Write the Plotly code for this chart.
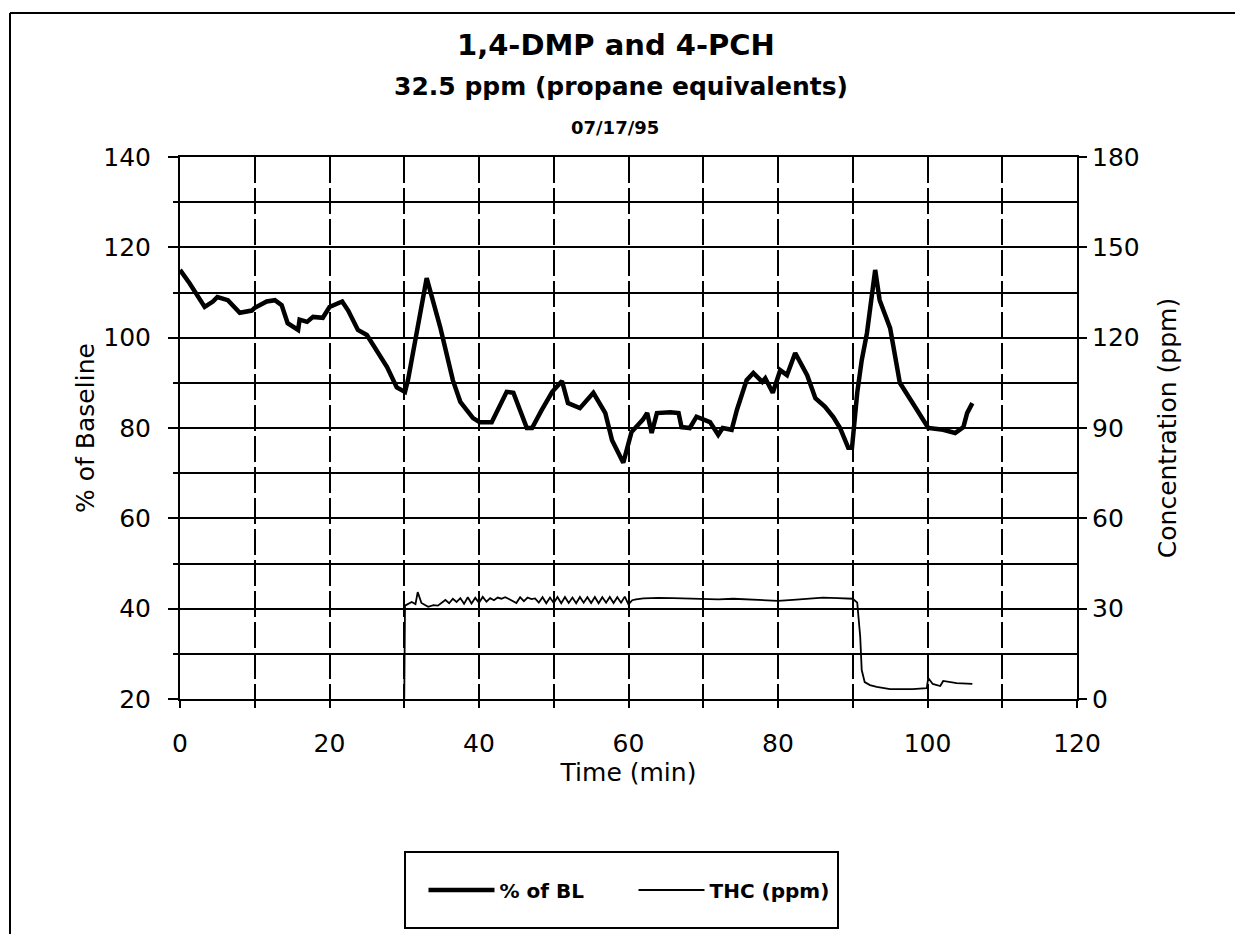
import plotly.graph_objects as go

# ---------------- data ----------------
time_bl = [0, 1.3, 3.3, 4.4, 5, 6.4, 8, 9.6, 10, 11.6, 12.7, 13.6, 14.4, 15.8, 16, 17,
           17.8, 19.1, 20, 21.7, 22.5, 23.8, 25, 26.3, 27.7, 29, 30.1, 30.5, 31.4, 33,
           34.8, 36.5, 37.5, 39.2, 40.1, 41.7, 43.7, 44.6, 46.4, 47.1, 48.4, 49.8, 51.1,
           51.9, 53.5, 55.3, 56.9, 57.8, 59.3, 60.4, 61.9, 62.5, 63.1, 63.8, 65.6, 66.7,
           67.1, 68.2, 69.1, 70.9, 72, 72.6, 73.8, 74.5, 75.8, 76.7, 77.9, 78.3, 79.3,
           80.3, 81.2, 82.3, 83.9, 85, 86.3, 87.4, 88.3, 89.4, 89.9, 90.6, 91.2, 91.9,
           93, 93.6, 95, 96.3, 98.6, 100.1, 102.1, 103.7, 104.8, 105.3, 106]
pct_bl = [115, 112, 106.8, 108, 109, 108.3, 105.5, 106, 106.6, 108, 108.3, 107.2, 103.2,
          101.7, 104, 103.5, 104.6, 104.4, 106.8, 108, 106, 101.7, 100.6, 97.3, 93.5, 89,
          88, 90.6, 98.8, 113.2, 102.4, 90.6, 85.8, 82.2, 81.3, 81.3, 88, 87.8, 80, 80,
          84, 88, 90.4, 85.5, 84.4, 87.8, 83.3, 77.3, 72.3, 79.1, 81.8, 83.3, 78.9, 83.3,
          83.5, 83.3, 80.2, 80, 82.5, 81.3, 78.5, 80, 79.6, 84, 90.6, 92.2, 90.2, 91,
          87.8, 92.8, 91.7, 96.6, 91.7, 86.6, 84.7, 82.4, 80, 75.6, 75.6, 87.8, 95, 101,
          115, 108.3, 102.1, 90, 84, 80, 79.6, 78.9, 80.2, 83.3, 85.5]

time_thc = [30.0, 30.1, 31, 31.5, 31.8, 32.3, 33.2, 33.9, 34.5, 35, 35.5, 36, 36.5, 37,
            37.5, 38, 38.5, 39, 39.5, 40, 40.5, 41, 41.5, 42, 42.5, 43, 43.5, 44, 44.5,
            45, 45.5, 46, 46.5, 47, 47.5, 48, 48.5, 49, 49.5, 50, 50.5, 51, 51.5, 52,
            52.5, 53, 53.5, 54, 54.5, 55, 55.5, 56, 56.5, 57, 57.5, 58, 58.5, 59, 59.5,
            60, 60.5, 61, 62, 64, 66, 68, 70, 72, 74, 76, 78, 80, 82, 84, 86, 88, 90,
            90.6, 91, 91.2, 91.6, 92.3, 93.2, 95, 98, 99.9, 100.1, 100.7, 101.7, 102.1,
            103.9, 106]
thc_ppm = [0, 31, 32.2, 31.5, 35.5, 31.9, 30.6, 31.2, 31.0, 32.0, 32.9, 31.8, 33.3,
           32.2, 33.5, 31.6, 33.8, 31.7, 33.6, 32.0, 33.9, 32.3, 33.5, 32.8, 33.7, 33.3,
           33.8, 33.2, 32.6, 31.9, 33.8, 32.5, 33.7, 33.2, 33.4, 32.0, 33.8, 31.8, 33.7,
           31.9, 33.9, 31.8, 33.9, 31.9, 33.7, 31.8, 33.9, 32.0, 33.8, 31.9, 33.9, 31.8,
           33.8, 32.0, 33.9, 31.9, 33.8, 32.0, 34.0, 31.4, 32.8, 33.1, 33.4, 33.6, 33.5,
           33.4, 33.3, 33.1, 33.3, 33.0, 32.8, 32.6, 32.9, 33.3, 33.7, 33.5, 33.3, 32.0,
           20.6, 9.6, 5.6, 4.6, 4.0, 3.3, 3.3, 3.6, 7.0, 5.0, 4.3, 6.0, 5.3, 5.0]

x_tickvals = [0, 20, 40, 60, 80, 100, 120]
y_tickvals = [20, 40, 60, 80, 100, 120, 140]
y2_tickvals = [0, 30, 60, 90, 120, 150, 180]

# ---------------- layout geometry ----------------
W, H = 1235, 934
L, R, T, B = 180, 158, 157, 235
PW, PH = W - L - R, H - T - B


def px_x(px):
    return (px - L) / PW


def px_y(py):
    return (H - B - py) / PH


FONT = "DejaVu Sans, Liberation Sans, Arial, sans-serif"
GRID_DASH = "26px,5px"

fig = go.Figure()
fig.add_trace(go.Scatter(x=time_bl, y=pct_bl, name="% of BL", mode="lines",
                         line=dict(color="black", width=4.5), yaxis="y"))
fig.add_trace(go.Scatter(x=time_thc, y=thc_ppm, name="THC (ppm)", mode="lines",
                         line=dict(color="black", width=1.8), yaxis="y2"))

fig.update_layout(
    width=W, height=H,
    margin=dict(l=L, r=R, t=T, b=B, autoexpand=False),
    paper_bgcolor="white", plot_bgcolor="white",
    font=dict(family=FONT, color="black", size=24),
    showlegend=True,
    legend=dict(orientation="h", x=px_x(633.5), y=px_y(890), xanchor="center",
                yanchor="middle", bgcolor="rgba(0,0,0,0)", borderwidth=0,
                itemwidth=66, entrywidth=129, entrywidthmode="pixels",
                font=dict(family=FONT, size=20, color="black", weight="bold")),
    xaxis=dict(
        range=[0, 120], tickvals=x_tickvals, ticktext=[str(v) for v in x_tickvals],
        showgrid=True, gridcolor="black", gridwidth=1.5, griddash=GRID_DASH,
        ticks="outside", ticklen=7, tickwidth=1.5, tickcolor="black",
        ticklabelstandoff=14,
        minor=dict(dtick=10, tick0=0, showgrid=True, gridcolor="black", gridwidth=1.5,
                   griddash=GRID_DASH, ticks="outside", ticklen=7, tickwidth=1.5,
                   tickcolor="black"),
        showline=True, linecolor="black", linewidth=2, mirror=True, zeroline=False,
        tickfont=dict(size=25),
        title=dict(text="Time (min)", font=dict(size=25), standoff=4),
    ),
    yaxis=dict(
        range=[20, 140], tickvals=y_tickvals, ticktext=[str(v) for v in y_tickvals],
        showgrid=True, gridcolor="black", gridwidth=2,
        ticks="outside", ticklen=10, tickwidth=2, tickcolor="black",
        ticklabelstandoff=12,
        minor=dict(dtick=10, tick0=0, showgrid=True, gridcolor="black", gridwidth=2,
                   ticks="outside", ticklen=5, tickwidth=2, tickcolor="black"),
        showline=True, linecolor="black", linewidth=2, zeroline=False,
        tickfont=dict(size=25),
        title=dict(text="% of Baseline", font=dict(size=25), standoff=2),
    ),
    yaxis2=dict(
        range=[0, 180], tickvals=y2_tickvals, ticktext=[str(v) for v in y2_tickvals],
        overlaying="y", side="right", showgrid=False,
        ticks="outside", ticklen=8, tickwidth=2, tickcolor="black",
        ticklabelstandoff=0,
        showline=True, linecolor="black", linewidth=2, zeroline=False,
        tickfont=dict(size=25),
        title=dict(text="Concentration (ppm)", font=dict(size=25), standoff=20),
    ),
)

# Titles
fig.add_annotation(text="<b>1,4-DMP and 4-PCH</b>", x=px_x(616), y=px_y(45),
                   xref="paper", yref="paper", showarrow=False,
                   font=dict(family=FONT, size=29, color="black"),
                   xanchor="center", yanchor="middle")
fig.add_annotation(text="<b>32.5 ppm (propane equivalents)</b>", x=px_x(621), y=px_y(87),
                   xref="paper", yref="paper", showarrow=False,
                   font=dict(family=FONT, size=25, color="black"),
                   xanchor="center", yanchor="middle")
fig.add_annotation(text="<b>07/17/95</b>", x=px_x(615), y=px_y(127),
                   xref="paper", yref="paper", showarrow=False,
                   font=dict(family=FONT, size=18, color="black"),
                   xanchor="center", yanchor="middle")

# Legend frame and outer frame
fig.add_shape(type="rect", xref="paper", yref="paper",
              x0=px_x(405), x1=px_x(838), y0=px_y(928), y1=px_y(852),
              line=dict(color="black", width=2), fillcolor="rgba(0,0,0,0)")
fig.add_shape(type="line", xref="paper", yref="paper",
              x0=px_x(10), x1=px_x(1235), y0=px_y(13), y1=px_y(13),
              line=dict(color="black", width=2))
fig.add_shape(type="line", xref="paper", yref="paper",
              x0=px_x(10), x1=px_x(10), y0=px_y(13), y1=px_y(934),
              line=dict(color="black", width=2))

fig.write_html("out.html")
